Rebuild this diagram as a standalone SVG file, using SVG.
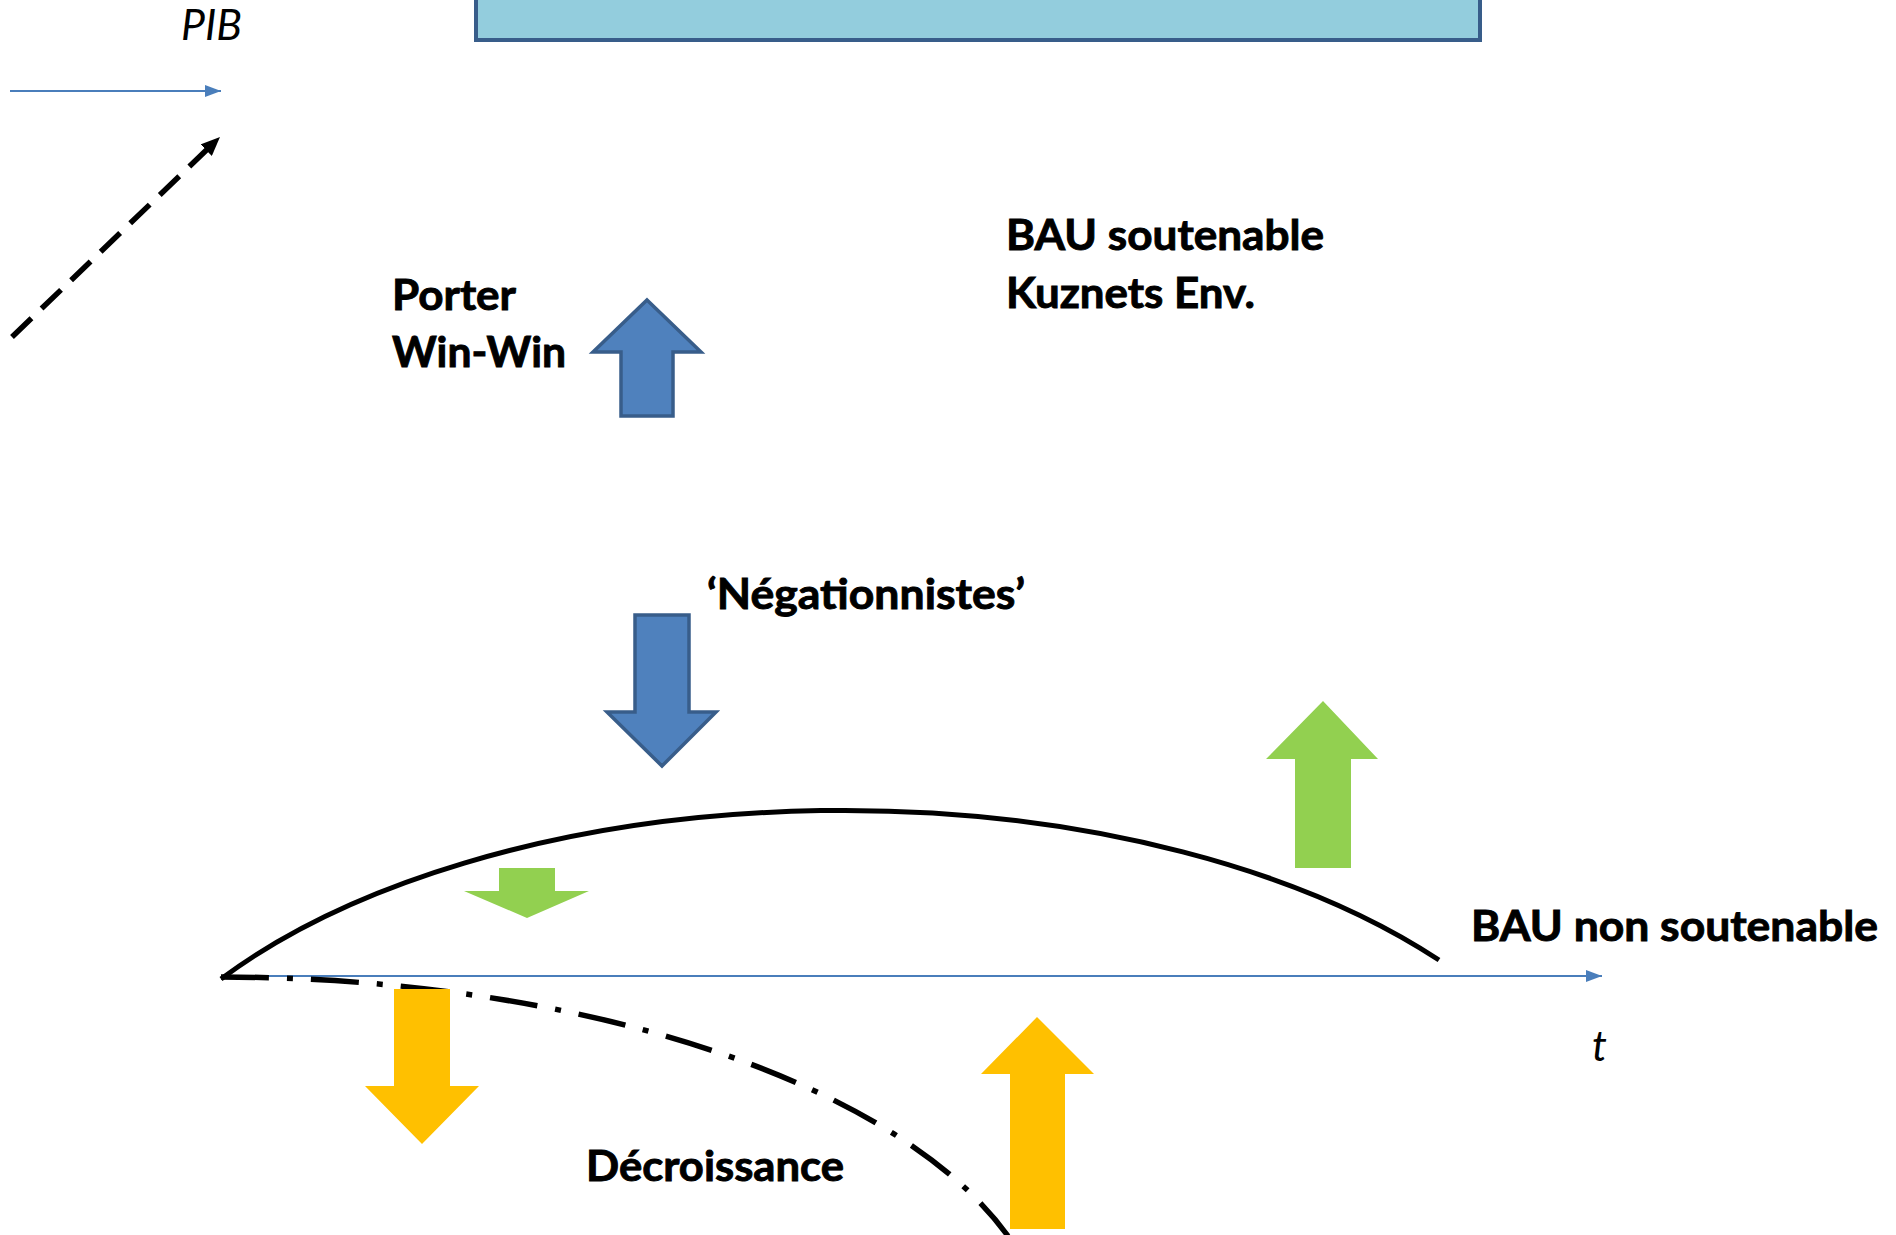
<svg xmlns="http://www.w3.org/2000/svg" width="1896" height="1235" viewBox="0 0 1896 1235">
  <style>
    .lbl { font-family: Lato, "Open Sans", "Liberation Sans", sans-serif; font-weight: 700; font-size: 42px; fill: #000; stroke: #000; stroke-width: 0.9px; }
    .it { font-family: Lato, "Open Sans", "Liberation Sans", sans-serif; font-style: italic; font-size: 42px; fill: #000; }
    .axis { stroke: #4A7EBB; stroke-width: 2; fill: none; }
    .blue { fill: #4F81BD; stroke: #385D8A; stroke-width: 3.5; stroke-linejoin: miter; }
    .green { fill: #92D050; stroke: none; }
    .yellow { fill: #FFC000; stroke: none; }
  </style>
  <defs>
    <marker id="axHead" markerUnits="userSpaceOnUse" markerWidth="16" markerHeight="12" refX="16" refY="6" orient="auto">
      <path d="M0,0 L16,6 L0,12 z" fill="#4A7EBB"/>
    </marker>
    <marker id="blkHead" markerUnits="userSpaceOnUse" markerWidth="20" markerHeight="16" refX="1" refY="8" orient="auto">
      <path d="M0,0 L19,8 L0,16 z" fill="#000"/>
    </marker>
  </defs>
  <rect width="1896" height="1235" fill="#fff"/>

  <g id="top-box">
    <rect x="476" y="-10" width="1004" height="50" fill="#93CDDD" stroke="#385D8A" stroke-width="4"/>
  </g>

  <g id="connectors">
    <line class="axis" x1="10" y1="91" x2="221" y2="91" marker-end="url(#axHead)"/>
    <line x1="12" y1="337" x2="207" y2="149.5" stroke="#000" stroke-width="5.5" stroke-dasharray="27 14" marker-end="url(#blkHead)"/>
    <line class="axis" x1="221" y1="976" x2="1602" y2="976" marker-end="url(#axHead)"/>
  </g>

  <g id="curves">
    <path id="bau-curve" d="M221,979 A757,391 0 0,1 1439,960" fill="none" stroke="#000" stroke-width="5"/>
    <path id="decroissance-curve" d="M221,977 A830,375 0 0,1 1008,1236" fill="none" stroke="#000" stroke-width="5.5" stroke-dasharray="48 18 6 18"/>
  </g>

  <g id="label-pib"><text class="it" x="181" y="40" textLength="61" lengthAdjust="spacingAndGlyphs">PIB</text></g>
  <g id="label-t"><text class="it" x="1592" y="1061" font-size="44">t</text></g>

  <g id="label-porter">
    <text class="lbl" x="392" y="310" textLength="124" lengthAdjust="spacingAndGlyphs">Porter</text>
    <text class="lbl" x="392" y="367" textLength="174" lengthAdjust="spacingAndGlyphs">Win-Win</text>
  </g>
  <g id="label-bau-soutenable">
    <text class="lbl" x="1006" y="250" textLength="318" lengthAdjust="spacingAndGlyphs">BAU soutenable</text>
    <text class="lbl" x="1006" y="308" textLength="249" lengthAdjust="spacingAndGlyphs">Kuznets Env.</text>
  </g>
  <g id="label-negationnistes">
    <text class="lbl" x="707" y="609" textLength="318" lengthAdjust="spacingAndGlyphs">‘Négationnistes’</text>
  </g>
  <g id="label-bau-non">
    <text class="lbl" x="1471" y="941" textLength="407" lengthAdjust="spacingAndGlyphs">BAU non soutenable</text>
  </g>
  <g id="label-decroissance">
    <text class="lbl" x="586" y="1181" textLength="258" lengthAdjust="spacingAndGlyphs">Décroissance</text>
  </g>

  <g id="arrow-porter-up">
    <path class="blue" d="M647,300 L701,352 L673,352 L673,416 L621,416 L621,352 L593,352 Z"/>
  </g>
  <g id="arrow-negationnistes-down">
    <path class="blue" d="M635,615 L689,615 L689,712 L716,712 L662,766 L607,712 L635,712 Z"/>
  </g>
  <g id="arrow-green-up">
    <path class="green" d="M1323,701 L1378,759 L1351,759 L1351,868 L1295,868 L1295,759 L1266,759 Z"/>
  </g>
  <g id="arrow-green-down">
    <path class="green" d="M499,868 L555,868 L555,891 L589,891 L527,918 L464,891 L499,891 Z"/>
  </g>
  <g id="arrow-yellow-down">
    <path class="yellow" d="M394,989 L450,989 L450,1086 L479,1086 L422,1144 L365,1086 L394,1086 Z"/>
  </g>
  <g id="arrow-yellow-up">
    <path class="yellow" d="M1037,1017 L1094,1074 L1065,1074 L1065,1229 L1010,1229 L1010,1074 L981,1074 Z"/>
  </g>
</svg>
